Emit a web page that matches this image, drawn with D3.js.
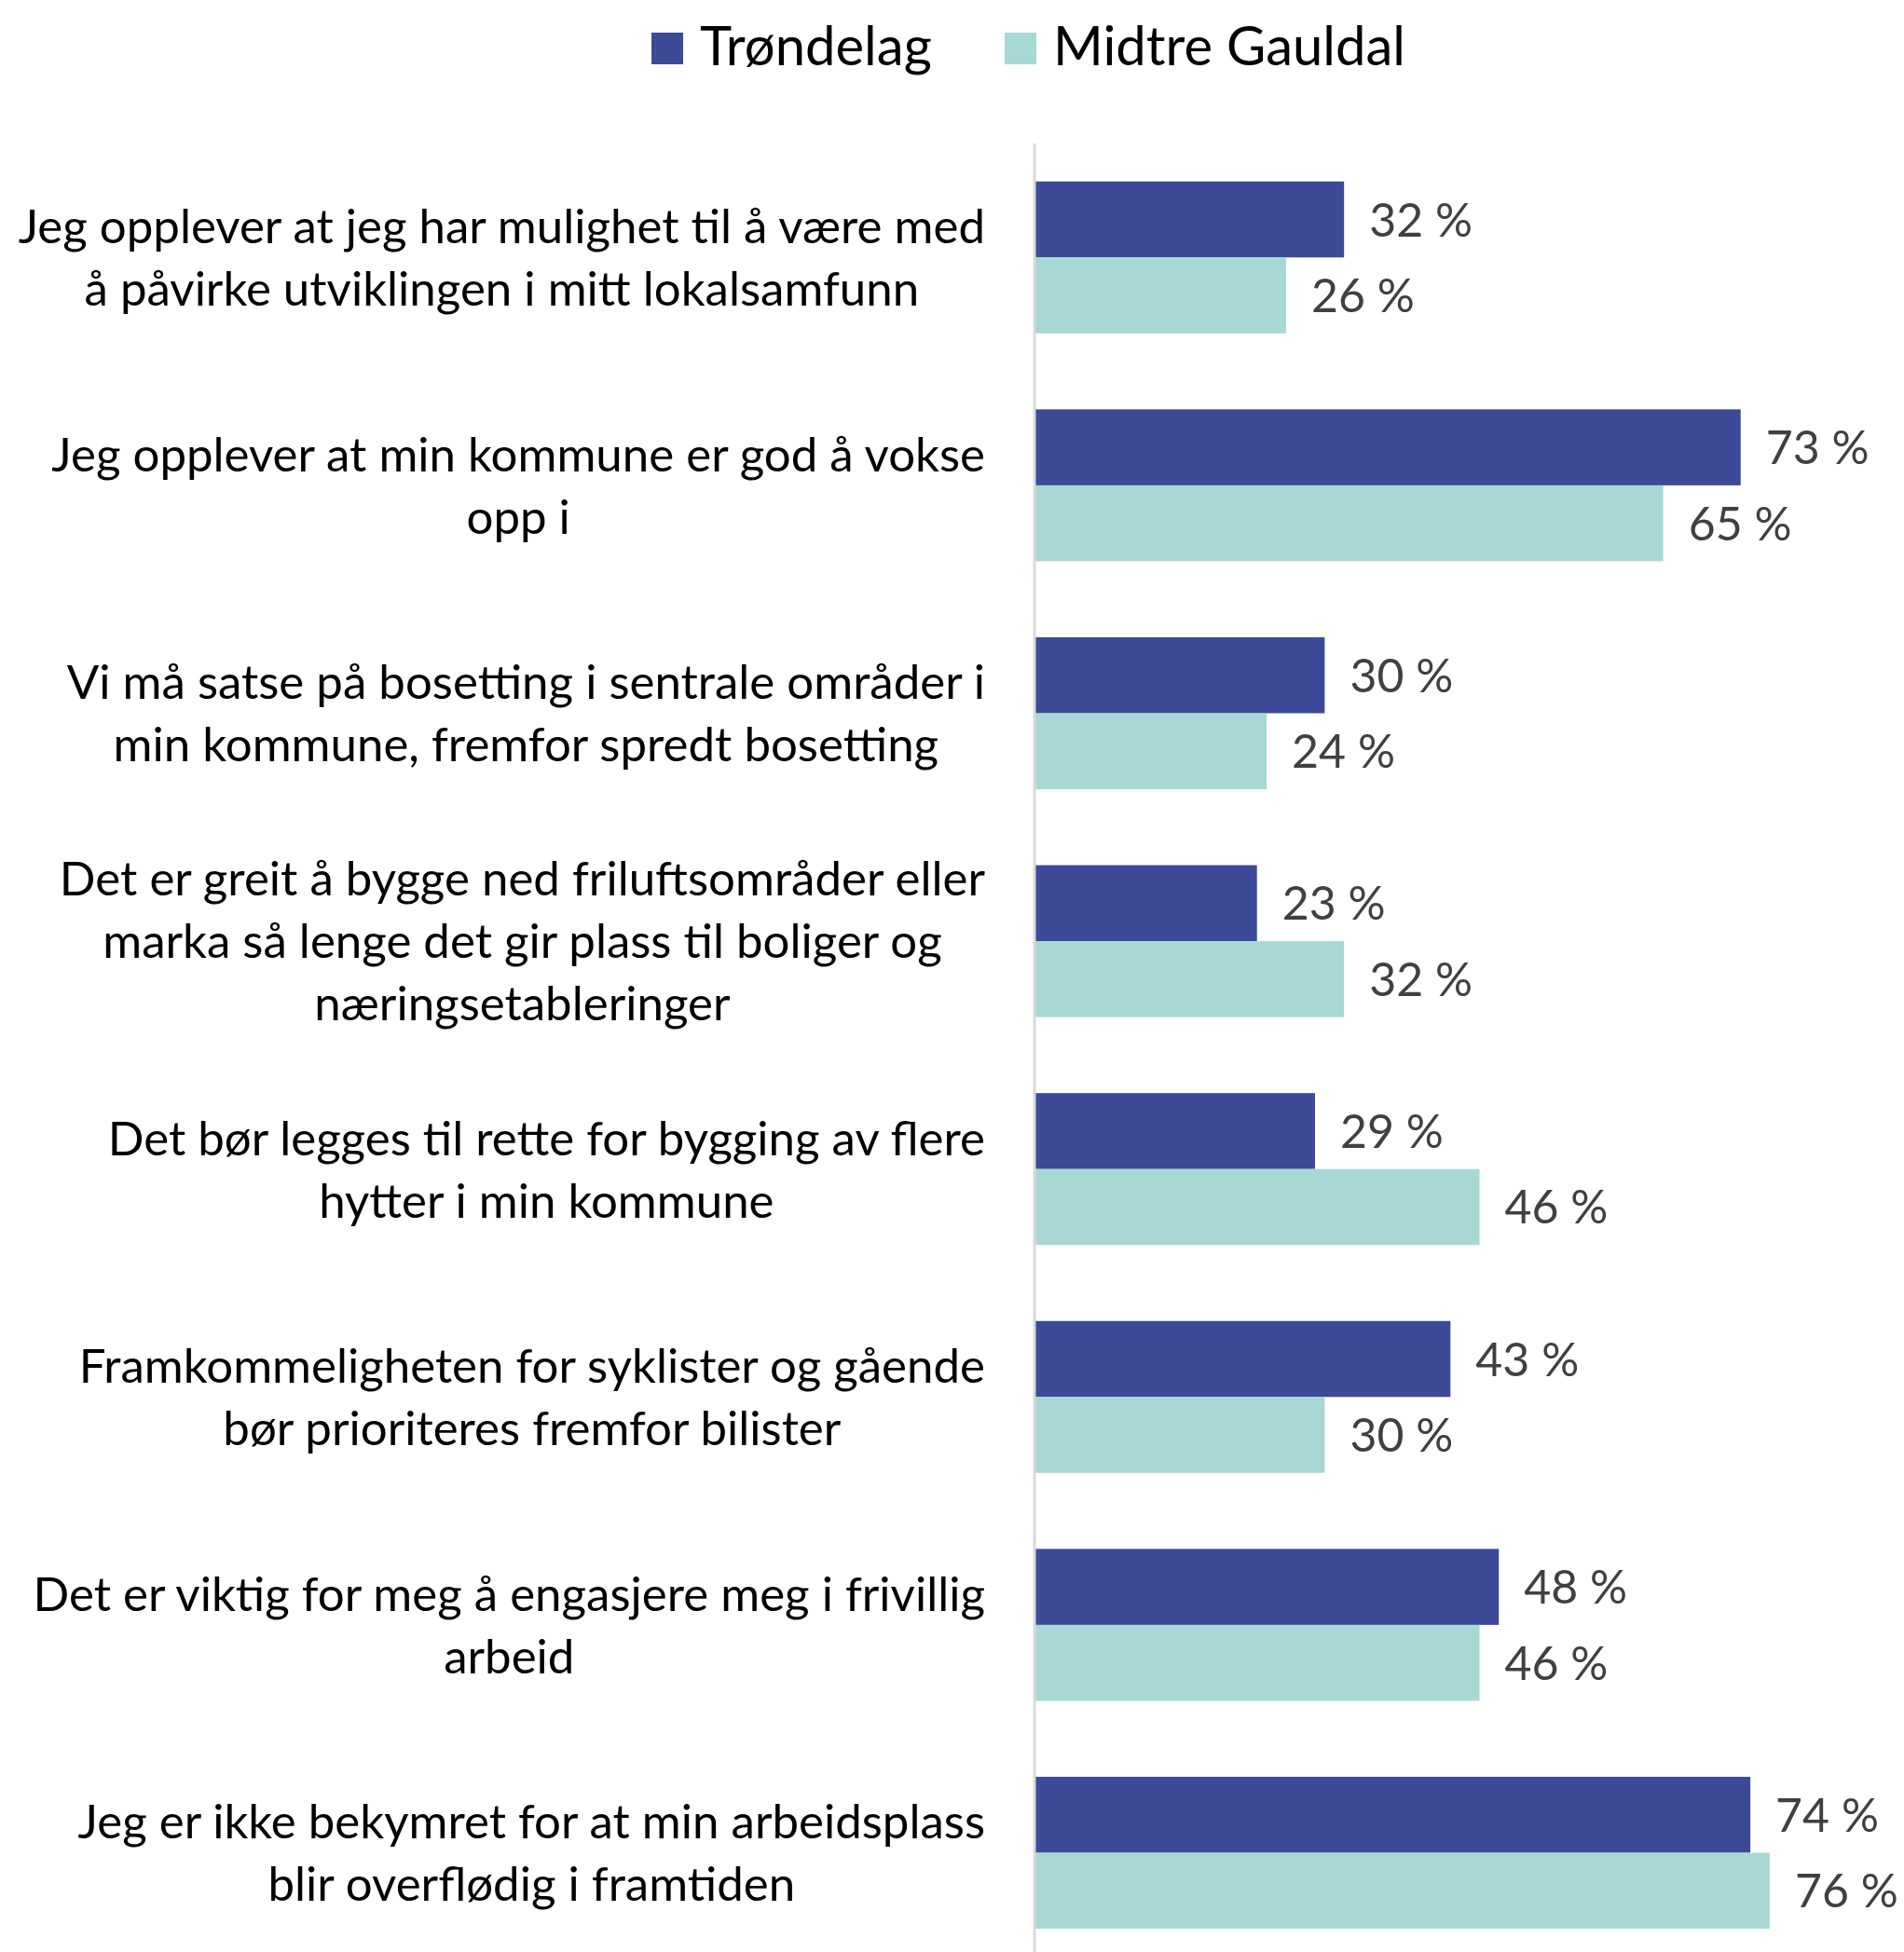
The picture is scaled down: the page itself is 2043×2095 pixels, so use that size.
<!DOCTYPE html>
<html>
<head>
<meta charset="utf-8">
<script src="https://cdn.jsdelivr.net/npm/d3@7"></script>
<style>
  body { margin: 0; background: #fff; }
  text { font-family: Lato, "Open Sans", sans-serif; }
</style>
</head>
<body>
<script>
// ---- data ----
var categories = [
    "Jeg opplever at jeg har mulighet til å være med\nå påvirke utviklingen i mitt lokalsamfunn",
    "Jeg opplever at min kommune er god å vokse\nopp i",
    "Vi må satse på bosetting i sentrale områder i\nmin kommune, fremfor spredt bosetting",
    "Det er greit å bygge ned friluftsområder eller\nmarka så lenge det gir plass til boliger og\nnæringsetableringer",
    "Det bør legges til rette for bygging av flere\nhytter i min kommune",
    "Framkommeligheten for syklister og gående\nbør prioriteres fremfor bilister",
    "Det er viktig for meg å engasjere meg i frivillig\narbeid",
    "Jeg er ikke bekymret for at min arbeidsplass\nblir overflødig i framtiden"
];
var seriesNames = ["Trøndelag", "Midtre Gauldal"];
var trondelag = [32, 73, 30, 23, 29, 43, 48, 74];
var midtreGauldal = [26, 65, 24, 32, 46, 30, 46, 76];
var colors = ["#3D4A98", "#A8D8D5"];

// ---- layout ----
var width = 2043, height = 2095;
var axisX = 1110, plotTop = 154, step = 244.6;

var svg = d3.select("body").append("svg")
    .attr("width", width)
    .attr("height", height);

var x = d3.scaleLinear()
    .domain([0, 100])
    .range([axisX, axisX + 1038]);

var y = d3.scaleBand()
    .domain(categories)
    .range([plotTop, plotTop + step * categories.length])
    .paddingInner(1 / 3)
    .paddingOuter(1 / 6);

var ySub = d3.scaleBand()
    .domain(seriesNames)
    .range([0, y.bandwidth()]);

var rows = categories.map(function(c, i) {
    return { cat: c, values: [trondelag[i], midtreGauldal[i]] };
});

// bars
var groups = svg.selectAll("g.row")
    .data(rows)
    .join("g")
    .attr("class", "row")
    .attr("transform", function(d) { return "translate(0," + y(d.cat) + ")"; });

groups.selectAll("rect")
    .data(function(d) { return d.values.map(function(v, j) { return { s: seriesNames[j], v: v, j: j }; }); })
    .join("rect")
    .attr("x", x(0))
    .attr("y", function(d) { return ySub(d.s); })
    .attr("width", function(d) { return x(d.v) - x(0); })
    .attr("height", ySub.bandwidth())
    .attr("fill", function(d) { return colors[d.j]; });

// value labels
groups.selectAll("text.val")
    .data(function(d) { return d.values.map(function(v, j) { return { s: seriesNames[j], v: v }; }); })
    .join("text")
    .attr("class", "val")
    .attr("x", function(d) { return x(d.v) + 27; })
    .attr("y", function(d) { return ySub(d.s) + ySub.bandwidth() / 2; })
    .attr("dy", "0.36em")
    .attr("font-size", 50)
    .attr("fill", "#404040")
    .text(function(d) { return d.v + " %"; });

// axis line
svg.append("line")
    .attr("x1", axisX).attr("x2", axisX)
    .attr("y1", plotTop).attr("y2", height)
    .attr("stroke", "#D9D9D9")
    .attr("stroke-width", 3);

// category labels (centred on the longest line, longest line right aligned)
var labelRight = 1057, lineH = 67;
rows.forEach(function(d) {
    var lines = d.cat.split("\n");
    var cy = y(d.cat) + y.bandwidth() / 2;
    var g = svg.append("g");
    var t = g.selectAll("text")
        .data(lines)
        .join("text")
        .attr("font-size", 51)
        .attr("fill", "#000")
        .attr("text-anchor", "middle")
        .attr("y", function(l, i) { return cy + (i - (lines.length - 1) / 2) * lineH; })
        .attr("dy", "0.36em")
        .text(function(l) { return l; });
    var maxW = d3.max(t.nodes(), function(n) { return n.getComputedTextLength(); });
    t.attr("x", labelRight - maxW / 2);
});

// legend
var legendX = [699, 1078];
var legend = svg.selectAll("g.legend")
    .data(seriesNames)
    .join("g")
    .attr("class", "legend")
    .attr("transform", function(d, i) { return "translate(" + legendX[i] + ",0)"; });
legend.append("rect")
    .attr("x", 0).attr("y", 35)
    .attr("width", 34).attr("height", 34)
    .attr("fill", function(d, i) { return colors[i]; });
legend.append("text")
    .attr("x", 52).attr("y", 70)
    .attr("font-size", 58)
    .attr("fill", "#000")
    .text(function(d) { return d; });
</script>
</body>
</html>
